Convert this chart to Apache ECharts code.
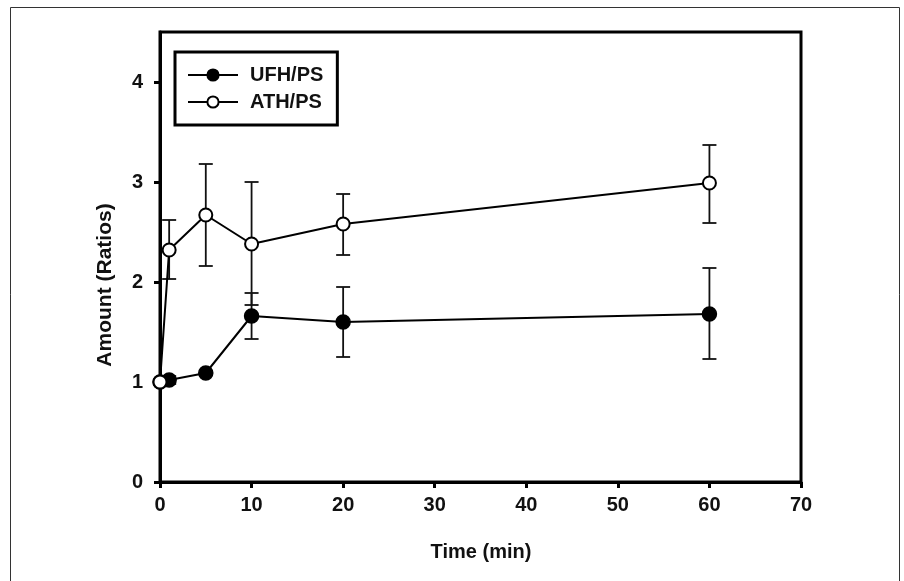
<!DOCTYPE html>
<html>
<head>
<meta charset="utf-8">
<script src="https://cdn.jsdelivr.net/npm/echarts@6/dist/echarts.min.js"></script>
<style>
  html, body { margin: 0; padding: 0; background: #fff; }
  #chart { width: 904px; height: 581px; }
</style>
</head>
<body>
<div id="chart"></div>
<script>
// data
const timeMin = [0, 1, 5, 10, 20, 60];
const ufhMean = [1.00, 1.02, 1.09, 1.66, 1.60, 1.68];
const ufhLow  = [1.00, 0.98, 1.09, 1.43, 1.25, 1.23];
const ufhHigh = [1.00, 1.06, 1.09, 1.89, 1.95, 2.14];
const athMean = [1.00, 2.32, 2.67, 2.38, 2.58, 2.99];
const athLow  = [1.00, 2.03, 2.16, 1.77, 2.27, 2.59];
const athHigh = [1.00, 2.62, 3.18, 3.00, 2.88, 3.37];
const yTicks = [0, 1, 2, 3, 4];
const xTicks = [0, 10, 20, 30, 40, 50, 60, 70];

const chart = echarts.init(document.getElementById('chart'));
const font = 'Liberation Sans, Arial, sans-serif';

// error bar: vertical line with caps
function errorBar(params, api) {
  const x = api.value(0);
  const lo = api.coord([x, api.value(1)]);
  const hi = api.coord([x, api.value(2)]);
  if (Math.abs(lo[1] - hi[1]) < 1) return null;
  const w = 7;
  const style = { stroke: '#111', lineWidth: 1.8 };
  return {
    type: 'group',
    children: [
      { type: 'line', shape: { x1: lo[0], y1: lo[1], x2: hi[0], y2: hi[1] }, style: style },
      { type: 'line', shape: { x1: lo[0] - w, y1: lo[1], x2: lo[0] + w, y2: lo[1] }, style: style },
      { type: 'line', shape: { x1: hi[0] - w, y1: hi[1], x2: hi[0] + w, y2: hi[1] }, style: style }
    ]
  };
}

const option = {
  backgroundColor: '#fff',
  animation: false,
  grid: {
    left: 160, right: 103, top: 32, bottom: 99,
    show: true, borderColor: '#000', borderWidth: 3
  },
  xAxis: {
    type: 'value',
    min: 0, max: 70, interval: 10,
    axisLine: { show: true, onZero: false, lineStyle: { color: '#000', width: 3 } },
    axisTick: { show: true, length: 6, lineStyle: { color: '#000', width: 3 } },
    axisLabel: {
      color: '#111', fontFamily: font, fontWeight: 'bold', fontSize: 20, margin: 13,
      formatter: v => xTicks.includes(v) ? String(v) : ''
    },
    splitLine: { show: false }
  },
  yAxis: {
    type: 'value',
    min: 0, max: 4.5, interval: 1,
    axisLine: { show: true, onZero: false, lineStyle: { color: '#000', width: 3 } },
    axisTick: { show: true, length: 6, lineStyle: { color: '#000', width: 3 } },
    axisLabel: {
      color: '#111', fontFamily: font, fontWeight: 'bold', fontSize: 20, margin: 17,
      showMaxLabel: false,
      formatter: v => yTicks.includes(v) ? String(v) : ''
    },
    splitLine: { show: false }
  },
  legend: {
    left: 175, top: 52,
    orient: 'vertical',
    backgroundColor: '#fff',
    borderColor: '#000', borderWidth: 3, borderRadius: 0,
    padding: [13, 14, 13, 12],
    itemWidth: 50, itemHeight: 14, itemGap: 7,
    textStyle: {
      color: '#111', fontFamily: font, fontWeight: 'bold', fontSize: 20,
      padding: [0, 0, 0, 7]
    },
    data: ['UFH/PS', 'ATH/PS']
  },
  graphic: [
    {
      type: 'rect', silent: true, z: -10,
      shape: { x: 10.5, y: 7.5, width: 889, height: 600 },
      style: { fill: 'none', stroke: '#333', lineWidth: 1 }
    },
    {
      type: 'text', x: 105, y: 285, rotation: Math.PI / 2,
      style: {
        text: 'Amount (Ratios)', fill: '#111', font: 'bold 21px ' + font,
        align: 'center', verticalAlign: 'middle'
      }
    },
    {
      type: 'text', x: 481, y: 552,
      style: {
        text: 'Time (min)', fill: '#111', font: 'bold 20px ' + font,
        align: 'center', verticalAlign: 'middle'
      }
    }
  ],
  series: [
    {
      type: 'custom', name: 'ufhErr', renderItem: errorBar,
      data: timeMin.map((t, i) => [t, ufhLow[i], ufhHigh[i]]),
      encode: { x: 0, y: [1, 2] }, z: 2
    },
    {
      type: 'custom', name: 'athErr', renderItem: errorBar,
      data: timeMin.map((t, i) => [t, athLow[i], athHigh[i]]),
      encode: { x: 0, y: [1, 2] }, z: 2
    },
    {
      name: 'UFH/PS', type: 'line',
      data: timeMin.map((t, i) => [t, ufhMean[i]]),
      symbol: 'circle', symbolSize: 14, showAllSymbol: true,
      lineStyle: { color: '#000', width: 2 },
      itemStyle: { color: '#000', borderColor: '#000', borderWidth: 1.5 },
      z: 3
    },
    {
      name: 'ATH/PS', type: 'line',
      data: timeMin.map((t, i) => [t, athMean[i]]),
      symbol: 'circle', symbolSize: 13, showAllSymbol: true,
      lineStyle: { color: '#000', width: 2 },
      itemStyle: { color: '#fff', borderColor: '#000', borderWidth: 2 },
      z: 4
    }
  ]
};

chart.setOption(option);
</script>
</body>
</html>
